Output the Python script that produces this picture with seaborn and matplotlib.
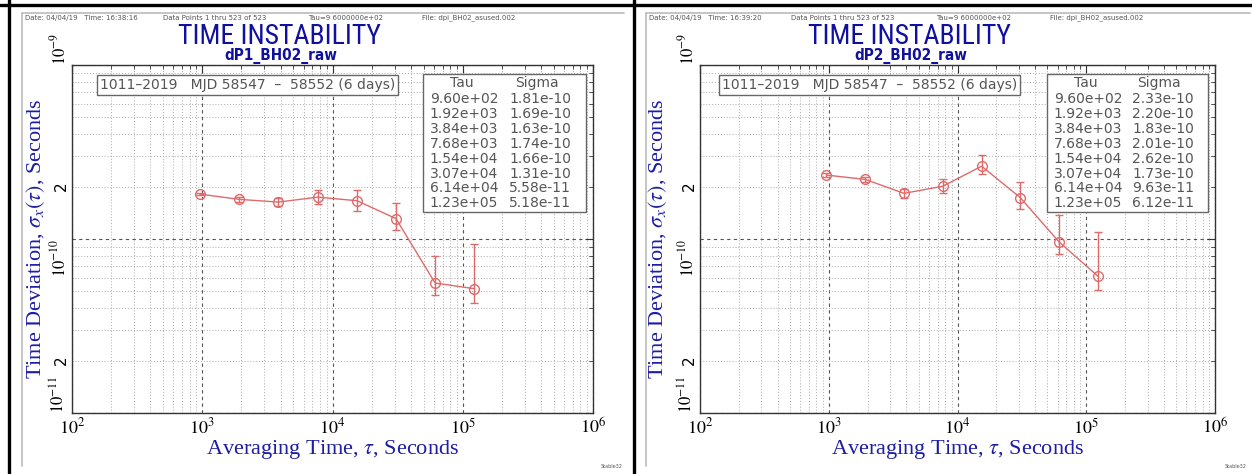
import numpy as np
import pandas as pd
import matplotlib
matplotlib.use("Agg")
import matplotlib.pyplot as plt
import seaborn as sns
from matplotlib.lines import Line2D
from matplotlib.patches import Rectangle
from matplotlib.ticker import FixedLocator, FuncFormatter, NullFormatter
from matplotlib import font_manager

# data
tau = [9.60e2, 1.92e3, 3.84e3, 7.68e3, 1.54e4, 3.07e4, 6.14e4, 1.23e5]

sig1 = [1.81e-10, 1.69e-10, 1.63e-10, 1.74e-10, 1.66e-10, 1.31e-10, 5.58e-11, 5.18e-11]
lo1 = [1.78e-10, 1.63e-10, 1.55e-10, 1.58e-10, 1.45e-10, 1.13e-10, 4.75e-11, 4.30e-11]
hi1 = [1.85e-10, 1.75e-10, 1.72e-10, 1.91e-10, 1.90e-10, 1.62e-10, 8.00e-11, 9.30e-11]

sig2 = [2.33e-10, 2.20e-10, 1.83e-10, 2.01e-10, 2.62e-10, 1.73e-10, 9.63e-11, 6.12e-11]
lo2 = [2.27e-10, 2.14e-10, 1.73e-10, 1.83e-10, 2.35e-10, 1.49e-10, 8.20e-11, 5.07e-11]
hi2 = [2.39e-10, 2.26e-10, 1.93e-10, 2.21e-10, 3.03e-10, 2.14e-10, 1.38e-10, 1.10e-10]

names = ["dP1_BH02_raw", "dP2_BH02_raw"]
times = ["16:38:16", "16:39:20"]
info = "1011\u20132019   MJD 58547  \u2013  58552 (6 days)"

xticks = [1e2, 1e3, 1e4, 1e5, 1e6]
yticks = [1e-11, 1e-10, 1e-9]

sns.set_style("white")
plt.rcParams['font.family'] = ['DejaVu Sans']
plt.rcParams['mathtext.fontset'] = 'stix'

W, H = 1252, 474
fig = plt.figure(figsize=(W / 100, H / 100), dpi=100)

def fx(px):
    return px / W

def fy(py):
    return 1 - py / H

blue = '#1c1ca8'
red = '#e06a6a'
serif = ['Liberation Serif', 'DejaVu Serif']

# a narrow sans for the title if one is around
avail = {f.name for f in font_manager.fontManager.ttflist}
narrow = None
for cand in ['Liberation Sans Narrow', 'DejaVu Sans Condensed', 'Roboto Condensed']:
    if cand in avail:
        narrow = cand
        break
if narrow is None:
    title_kw = dict(family=['DejaVu Sans'], stretch='condensed', fontsize=20)
else:
    title_kw = dict(family=[narrow], fontsize=20)

# panel frames
fig.add_artist(Line2D([0, 1], [fy(5), fy(5)], color='black', lw=2.4))
fig.add_artist(Line2D([fx(9), fx(9)], [0, 1], color='black', lw=2.4))
fig.add_artist(Line2D([fx(634), fx(634)], [0, 1], color='black', lw=2.4))
for x0, x1 in [(22, 624), (646, 1250)]:
    fig.add_artist(Line2D([fx(x0), fx(x0)], [fy(13), fy(466)], color='#bbbbbb', lw=1.2))
    fig.add_artist(Line2D([fx(x0), fx(x1)], [fy(13), fy(13)], color='#bbbbbb', lw=1.2))

panels = [
    dict(sig=sig1, lo=lo1, hi=hi1, ax_px=(72, 593), off=0, box_x=0.046, ylab_x=47),
    dict(sig=sig2, lo=lo2, hi=hi2, ax_px=(700, 1215), off=624, box_x=0.035, ylab_x=669),
]

for i, p in enumerate(panels):
    a0, a1 = p['ax_px']
    ax = fig.add_axes([fx(a0), fy(413), fx(a1 - a0), (413 - 65) / H])
    df = pd.DataFrame({'tau': tau, 'sigma': p['sig']})

    yerr = [np.array(p['sig']) - np.array(p['lo']), np.array(p['hi']) - np.array(p['sig'])]
    ax.errorbar(df['tau'], df['sigma'], yerr=yerr, fmt='none', ecolor=red,
                elinewidth=1, capsize=3, capthick=1, zorder=3)
    sns.lineplot(data=df, x='tau', y='sigma', ax=ax, color=red, lw=1,
                 marker='o', markersize=7, markerfacecolor='none',
                 markeredgecolor=red, markeredgewidth=1, zorder=4)

    ax.set_xscale('log')
    ax.set_yscale('log')
    ax.set_xlim(1e2, 1e6)
    ax.set_ylim(1e-11, 1e-9)

    ax.xaxis.set_major_locator(FixedLocator(xticks))
    ax.xaxis.set_major_formatter(FuncFormatter(lambda v, pos: r'$10^{%d}$' % round(np.log10(v))))
    ax.xaxis.set_minor_locator(FixedLocator([m * 10.0 ** e for e in range(2, 6) for m in range(2, 10)]))
    ax.xaxis.set_minor_formatter(NullFormatter())

    ax.yaxis.set_major_locator(FixedLocator(yticks))
    ax.yaxis.set_major_formatter(FuncFormatter(lambda v, pos: r'$10^{%d}$' % round(np.log10(v))))
    ax.yaxis.set_minor_locator(FixedLocator([m * 10.0 ** e for e in range(-11, -9) for m in range(2, 10)]))
    ax.yaxis.set_minor_formatter(FuncFormatter(
        lambda v, pos: '2' if abs(v / 10.0 ** np.floor(np.log10(v) + 1e-9) - 2) < 0.01 else ''))

    ax.tick_params(which='both', direction='in', top=True, right=True, colors='#333333')
    ax.tick_params(which='major', length=6, width=0.8, labelsize=13, labelcolor='black')
    ax.tick_params(which='minor', length=3, width=0.6, labelsize=11, labelcolor='black')
    ax.tick_params(axis='y', which='major', labelsize=12)
    ax.tick_params(axis='y', which='both', pad=2)
    fig.canvas.draw()
    for lab in ax.get_yticklabels(which='both'):
        lab.set_rotation(90)
        lab.set_va('center')
    # end labels sit off the corners, as Stable32 draws them
    ymaj = ax.get_yticklabels()
    ymaj[0].set_va('bottom')
    ymaj[1].set_va('top')
    ymaj[2].set_va('bottom')

    ax.grid(which='major', ls=(0, (3, 3)), color='#555555', lw=0.8)
    ax.grid(which='minor', ls=(0, (1, 2)), color='#aaaaaa', lw=0.7)
    for s in ax.spines.values():
        s.set_color('#333333')
        s.set_linewidth(1)

    ax.set_xlabel(r'Averaging Time, $\tau$, Seconds', family=serif, fontsize=16,
                  color=blue, labelpad=0)
    ax.set_ylabel(r'Time Deviation, $\sigma_{x}(\tau)$, Seconds', family=serif,
                  fontsize=16, color=blue)
    ax.yaxis.set_label_coords((p['ylab_x'] - a0) / (a1 - a0), 0.5)

    # info box
    ax.text(p['box_x'] + 0.008, 0.943, info, transform=ax.transAxes, fontsize=10,
            color='#555555', va='center', ha='left', zorder=6,
            bbox=dict(boxstyle='square,pad=0.2', fc='white', ec='#666666', lw=1))

    # tau / sigma table
    ax.add_patch(Rectangle((0.674, 0.578), 0.313, 0.396, transform=ax.transAxes,
                           fc='white', ec='#666666', lw=1, zorder=6))
    ax.text(0.749, 0.948, 'Tau', transform=ax.transAxes, ha='center', va='center',
            fontsize=10, color='#555555', zorder=7)
    ax.text(0.892, 0.948, 'Sigma', transform=ax.transAxes, ha='center', va='center',
            fontsize=10, color='#555555', zorder=7)
    for k, (t, s) in enumerate(zip(tau, p['sig'])):
        yy = 1 - (99 + 14.9 * k - 65) / 348
        ax.text(0.687, yy, f"{t:.2e}", transform=ax.transAxes, ha='left', va='center',
                fontsize=10, color='#555555', zorder=7)
        ax.text(0.839, yy, f"{s:.2e}", transform=ax.transAxes, ha='left', va='center',
                fontsize=10, color='#555555', zorder=7)

    off = p['off']
    # header strip
    hdr = [(25, f"Date: 04/04/19   Time: {times[i]}"), (163, "Data Points 1 thru 523 of 523"),
           (308, "Tau=9 6000000e+02"), (422, "File: dpi_BH02_asused.002")]
    for hx, txt in hdr:
        fig.text(fx(hx + off + (i * 4 if hx > 25 else 0)), fy(18), txt, fontsize=5,
                 color='#555555', ha='left', va='center')
    fig.text(fx(279 + off + i * 6), fy(36), "TIME INSTABILITY", color='#1010a0',
             ha='center', va='center', **title_kw)
    fig.text(fx(281 + off + i * 6), fy(56), names[i], family=['DejaVu Sans'],
             stretch='condensed', fontweight='bold', fontsize=11,
             color='#1010a0', ha='center', va='center')
    fig.text(fx(612 + off), fy(466), "Stable32", fontsize=3.5, color='#555555',
             ha='center', va='center')

fig.savefig('out.png', dpi=100)
